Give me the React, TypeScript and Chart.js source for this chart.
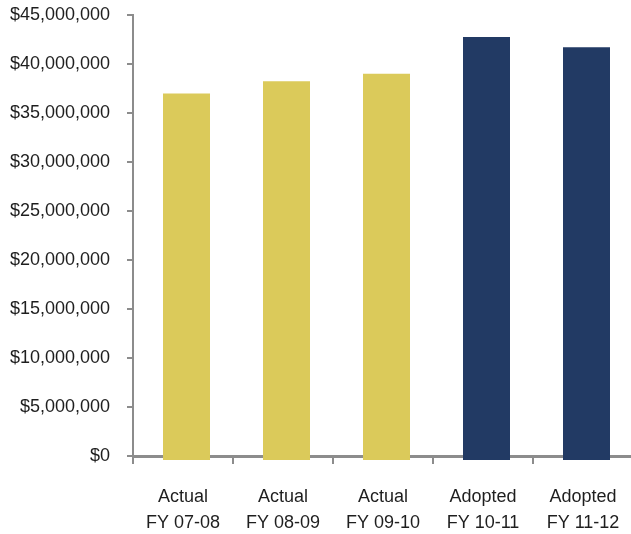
import React, { useEffect, useRef } from "react";
import { Chart, registerables } from "chart.js";

Chart.register(...registerables);

// Fiscal-year categories (two-line labels) and totals in dollars
const categories: string[][] = [
  ["Actual", "FY 07-08"],
  ["Actual", "FY 08-09"],
  ["Actual", "FY 09-10"],
  ["Adopted", "FY 10-11"],
  ["Adopted", "FY 11-12"],
];
const totals: number[] = [37000000, 38250000, 39000000, 42750000, 41700000];
const barColors: string[] = ["#DBCA5A", "#DBCA5A", "#DBCA5A", "#223A64", "#223A64"];

const yMin = 0;
const yMax = 45000000;
const yStep = 5000000;

const AXIS_GRAY = "#8C8C8C";
const TEXT = "#1E1E1E";
const FONT = "'Liberation Sans', Arial, sans-serif";

// Bars sit a few pixels right of the category centres
const barNudge = {
  id: "barNudge",
  beforeDatasetsDraw(chart: any) {
    chart.ctx.save();
    chart.ctx.translate(3.5, 0);
  },
  afterDatasetsDraw(chart: any) {
    chart.ctx.restore();
  },
};

export default function App() {
  const canvasRef = useRef<HTMLCanvasElement | null>(null);

  useEffect(() => {
    const canvas = canvasRef.current;
    if (!canvas) return;
    const chart = new Chart(canvas, {
      type: "bar",
      data: {
        labels: categories,
        datasets: [
          {
            data: totals,
            backgroundColor: barColors,
            borderWidth: 0,
            barPercentage: 0.94,
            categoryPercentage: 0.5,
            base: -400000,
            clip: false,
          } as any,
        ],
      },
      plugins: [barNudge],
      options: {
        animation: false,
        responsive: false,
        layout: { padding: { left: 0, right: 17, top: 15, bottom: 0 } },
        plugins: {
          legend: { display: false },
          tooltip: { enabled: false },
        },
        scales: {
          x: {
            z: 1,
            grid: {
              offset: true,
              drawOnChartArea: false,
              drawTicks: true,
              tickLength: 8,
              color: AXIS_GRAY,
              lineWidth: 2,
            },
            border: { display: true, color: AXIS_GRAY, width: 3 },
            ticks: {
              color: TEXT,
              font: { family: FONT, size: 18, lineHeight: 1.444 },
              padding: 20,
              maxRotation: 0,
              autoSkip: false,
            },
            afterFit: (scale: any) => {
              scale.height = 78;
              scale.paddingLeft = 0;
              scale.paddingRight = 0;
            },
          },
          y: {
            z: 1,
            min: yMin,
            max: yMax,
            grid: {
              drawOnChartArea: false,
              drawTicks: true,
              tickLength: 6,
              color: AXIS_GRAY,
              lineWidth: 2,
            },
            border: { display: true, color: AXIS_GRAY, width: 2 },
            ticks: {
              stepSize: yStep,
              color: TEXT,
              padding: 17,
              font: { family: FONT, size: 18 },
              callback: (v: any) => "$" + Number(v).toLocaleString("en-US"),
            },
            afterFit: (scale: any) => {
              scale.width = 133;
              scale.paddingTop = 0;
              scale.paddingBottom = 0;
            },
          },
        },
      },
    });
    return () => chart.destroy();
  }, []);

  return (
    <div
      style={{
        position: "fixed",
        left: 0,
        top: 0,
        width: 631,
        height: 534,
        overflow: "hidden",
        background: "#ffffff",
      }}
    >
      <canvas ref={canvasRef} width={650} height={534} style={{ display: "block" }} />
    </div>
  );
}
